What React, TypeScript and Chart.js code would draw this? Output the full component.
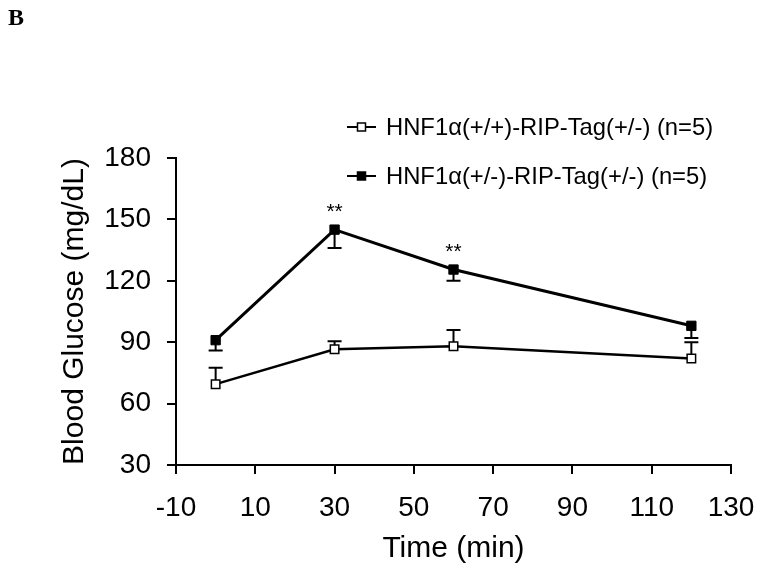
import React, { useEffect, useRef } from 'react';
import { Chart, registerables } from 'chart.js';
Chart.register(...registerables);

const times = [0, 30, 60, 120];
const wildTypeMean = [69.5, 86.5, 88, 82];
const wildTypeSem = [8, 4, 8, 8];
const hetMean = [91, 145, 125.5, 98];
const hetSem = [5, 9, 5.5, 6];
const significance = ['', '**', '**', ''];
const seriesLabels = ['HNF1\u03b1(+/+)-RIP-Tag(+/-) (n=5)', 'HNF1\u03b1(+/-)-RIP-Tag(+/-) (n=5)'];
const xTicks = [-10, 10, 30, 50, 70, 90, 110, 130];
const yTicks = [30, 60, 90, 120, 150, 180];
const panelLetter = 'B';
const xTitle = 'Time (min)';
const yTitle = 'Blood Glucose (mg/dL)';

const SANS = '"Liberation Sans", Arial, sans-serif';
const W = 762;
const H = 582;

const overlay = {
  id: 'overlay',
  beforeDatasetsDraw(chart: any) {
    const ctx = chart.ctx;
    const xs = chart.scales.x;
    const ys = chart.scales.y;
    ctx.save();
    ctx.strokeStyle = '#000';
    ctx.lineWidth = 2;
    const cap = 7;
    const drawBar = (x: number, y0: number, y1: number) => {
      const px = xs.getPixelForValue(x);
      const p0 = ys.getPixelForValue(y0);
      const p1 = ys.getPixelForValue(y1);
      ctx.beginPath();
      ctx.moveTo(px, p0);
      ctx.lineTo(px, p1);
      ctx.moveTo(px - cap, p1);
      ctx.lineTo(px + cap, p1);
      ctx.stroke();
    };
    times.forEach((t, i) => {
      drawBar(t, wildTypeMean[i], wildTypeMean[i] + wildTypeSem[i]);
      drawBar(t, hetMean[i], hetMean[i] - hetSem[i]);
    });
    ctx.restore();
  },
  afterDatasetsDraw(chart: any) {
    const ctx = chart.ctx;
    const xs = chart.scales.x;
    const ys = chart.scales.y;
    ctx.save();
    // significance marks
    ctx.fillStyle = '#000';
    ctx.font = `21px ${SANS}`;
    ctx.textAlign = 'center';
    ctx.textBaseline = 'middle';
    times.forEach((t, i) => {
      if (!significance[i]) return;
      const px = xs.getPixelForValue(t);
      const py = ys.getPixelForValue(hetMean[i]);
      ctx.fillText(significance[i], px, py - 17);
    });
    // legend
    const rows = [127, 176];
    ctx.font = `23.8px ${SANS}`;
    ctx.textAlign = 'left';
    seriesLabels.forEach((label, i) => {
      const y = rows[i];
      ctx.strokeStyle = '#000';
      ctx.lineWidth = 2;
      ctx.beginPath();
      ctx.moveTo(347, y);
      ctx.lineTo(376, y);
      ctx.stroke();
      const s = 8;
      ctx.fillStyle = i === 0 ? '#fff' : '#000';
      ctx.fillRect(361.5 - s / 2, y - s / 2, s, s);
      ctx.lineWidth = 1.5;
      ctx.strokeRect(361.5 - s / 2, y - s / 2, s, s);
      ctx.fillStyle = '#000';
      ctx.fillText(label, 386, y + 1);
    });
    // panel letter
    ctx.font = `bold 24px "Liberation Serif", "Times New Roman", serif`;
    ctx.textBaseline = 'alphabetic';
    ctx.fillText(panelLetter, 8, 25);
    ctx.restore();
  },
};

export default function App() {
  const ref = useRef<HTMLCanvasElement | null>(null);
  useEffect(() => {
    const canvas = ref.current;
    if (!canvas) return;
    const chart = new Chart(canvas, {
      type: 'line',
      data: {
        datasets: [
          {
            label: seriesLabels[0],
            data: times.map((t, i) => ({ x: t, y: wildTypeMean[i] })),
            borderColor: '#000',
            borderWidth: 2.5,
            pointStyle: 'rect',
            pointRadius: 6,
            pointBackgroundColor: '#fff',
            pointBorderColor: '#000',
            pointBorderWidth: 1.5,
            tension: 0,
          },
          {
            label: seriesLabels[1],
            data: times.map((t, i) => ({ x: t, y: hetMean[i] })),
            borderColor: '#000',
            borderWidth: 3,
            pointStyle: 'rect',
            pointRadius: 6.6,
            pointBackgroundColor: '#000',
            pointBorderColor: '#000',
            pointBorderWidth: 1,
            tension: 0,
          },
        ],
      },
      options: {
        responsive: false,
        animation: false,
        events: [],
        layout: { padding: { top: 158, right: 31, left: 0, bottom: 0 } },
        plugins: { legend: { display: false }, tooltip: { enabled: false }, title: { display: false } },
        scales: {
          x: {
            type: 'linear',
            min: -10,
            max: 130,
            afterBuildTicks: (s: any) => { s.ticks = xTicks.map((v) => ({ value: v })); },
            afterFit: (s: any) => { s.height = H - 465; },
            grid: { display: true, drawOnChartArea: false, drawTicks: true, tickLength: 9, color: '#000', lineWidth: 2 },
            border: { display: true, color: '#000', width: 2 },
            ticks: { color: '#000', font: { family: SANS, size: 28, lineHeight: 2 }, padding: 6, maxRotation: 0, autoSkip: false },
            title: { display: true, text: xTitle, color: '#000', font: { family: SANS, size: 30 }, padding: { top: 0, bottom: 15 } },
          },
          y: {
            type: 'linear',
            min: 30,
            max: 180,
            afterBuildTicks: (s: any) => { s.ticks = yTicks.map((v) => ({ value: v })); },
            afterFit: (s: any) => { s.width = 176; },
            grid: { display: true, drawOnChartArea: false, drawTicks: true, tickLength: 9, color: '#000', lineWidth: 2 },
            border: { display: true, color: '#000', width: 2 },
            ticks: { color: '#000', font: { family: SANS, size: 28 }, padding: 16, autoSkip: false },
            title: { display: true, text: yTitle, color: '#000', font: { family: SANS, size: 30 }, padding: { top: 57, bottom: 0 } },
          },
        },
      },
      plugins: [overlay],
    } as any);
    return () => chart.destroy();
  }, []);
  return (
    <div style={{ position: 'absolute', left: 0, top: 0, width: W, height: H, background: '#fff' }}>
      <canvas ref={ref} width={W} height={H} style={{ display: 'block' }} />
    </div>
  );
}
